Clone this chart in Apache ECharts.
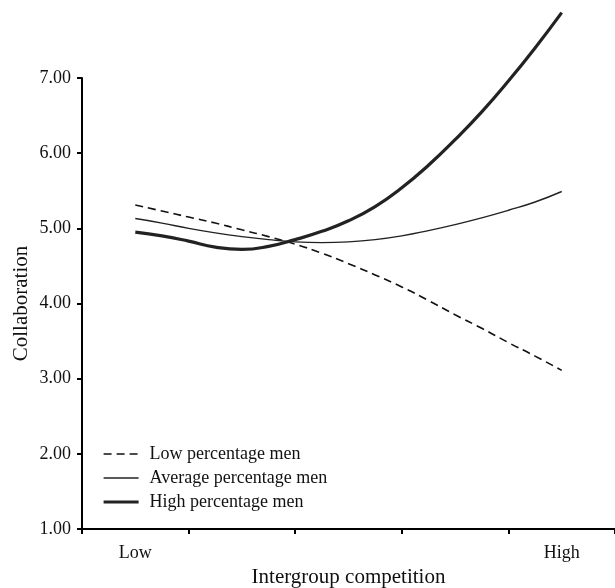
<!DOCTYPE html>
<html>
<head>
<meta charset="utf-8">
<script src="https://cdn.jsdelivr.net/npm/echarts@6/dist/echarts.min.js"></script>
<style>
html,body{margin:0;padding:0;background:#fff;}
#chart{width:615px;height:588px;}
</style>
</head>
<body>
<div id="chart"></div>
<script>
var categories = ['Low', '', '', '', 'High'];
var xPositions = [0, 0.25, 0.5, 0.75, 1, 1.25, 1.5, 1.75, 2, 2.25, 2.5, 2.75, 3, 3.25, 3.5, 3.75, 4];
var lowValues = [5.31, 5.23, 5.15, 5.07, 4.98, 4.89, 4.79, 4.67, 4.53, 4.38, 4.22, 4.04, 3.85, 3.67, 3.48, 3.30, 3.11];
var avgValues = [5.13, 5.07, 5.00, 4.94, 4.89, 4.85, 4.82, 4.81, 4.82, 4.85, 4.90, 4.97, 5.05, 5.14, 5.24, 5.35, 5.49];
var highValues = [4.95, 4.90, 4.83, 4.75, 4.72, 4.76, 4.85, 4.96, 5.10, 5.29, 5.54, 5.84, 6.18, 6.55, 6.96, 7.40, 7.87];
var seriesNames = ['Low percentage men', 'Average percentage men', 'High percentage men'];
var yTicks = [1, 2, 3, 4, 5, 6, 7];

function pairs(vals) {
  return xPositions.map(function (x, i) { return [x, vals[i]]; });
}

var font = 'Liberation Serif, Times New Roman, serif';
var lineStyles = [
  {color: '#111', width: 1.6, type: [8, 5]},
  {color: '#222', width: 1.4, type: 'solid'},
  {color: '#222', width: 3.2, type: 'solid'}
];
var values = [lowValues, avgValues, highValues];

var chart = echarts.init(document.getElementById('chart'), null, {renderer: 'canvas'});
chart.setOption({
  animation: false,
  backgroundColor: '#fff',
  textStyle: {fontFamily: font, color: '#111'},
  grid: {left: 82, right: 0, top: 78, bottom: 59, containLabel: false, outerBoundsMode: 'none'},
  legend: {
    data: seriesNames.map(function (n, i) {
      return {name: n, lineStyle: {width: lineStyles[i].width, type: lineStyles[i].type, color: lineStyles[i].color}};
    }),
    orient: 'vertical',
    left: 97,
    top: 440,
    itemWidth: 35,
    itemHeight: 14,
    itemGap: 6,
    itemStyle: {opacity: 0},
    textStyle: {fontFamily: font, fontSize: 18, color: '#111', padding: [0, 0, 0, 6], lineHeight: 18}
  },
  xAxis: [{
    type: 'category',
    data: categories,
    boundaryGap: true,
    name: 'Intergroup competition',
    nameLocation: 'middle',
    nameGap: 38,
    nameMoveOverlap: false,
    nameTextStyle: {fontFamily: font, fontSize: 21, color: '#111'},
    axisLine: {onZero: false, lineStyle: {color: '#000', width: 2}},
    axisTick: {show: true, length: 5, lineStyle: {color: '#000', width: 2}, interval: 0},
    axisLabel: {interval: 0, margin: 15, fontFamily: font, fontSize: 18, color: '#111'},
    splitLine: {show: false}
  }, {
    type: 'value',
    min: -0.5,
    max: 4.5,
    show: false,
    axisLine: {onZero: false}
  }],
  yAxis: {
    type: 'value',
    min: yTicks[0],
    max: yTicks[yTicks.length - 1],
    interval: 1,
    name: 'Collaboration',
    nameLocation: 'middle',
    nameGap: 50,
    nameMoveOverlap: false,
    nameTextStyle: {fontFamily: font, fontSize: 21, color: '#111'},
    axisLine: {show: true, onZero: false, lineStyle: {color: '#000', width: 2}},
    axisTick: {show: true, length: 5, lineStyle: {color: '#000', width: 2}},
    axisLabel: {margin: 11, fontFamily: font, fontSize: 18, color: '#111', formatter: function (v) { return v.toFixed(2); }},
    splitLine: {show: false}
  },
  series: seriesNames.map(function (n, i) {
    return {
      name: n,
      type: 'line',
      xAxisIndex: 1,
      data: pairs(values[i]),
      smooth: true,
      symbol: 'none',
      clip: false,
      itemStyle: {color: lineStyles[i].color},
      lineStyle: lineStyles[i]
    };
  })
});
</script>
</body>
</html>
